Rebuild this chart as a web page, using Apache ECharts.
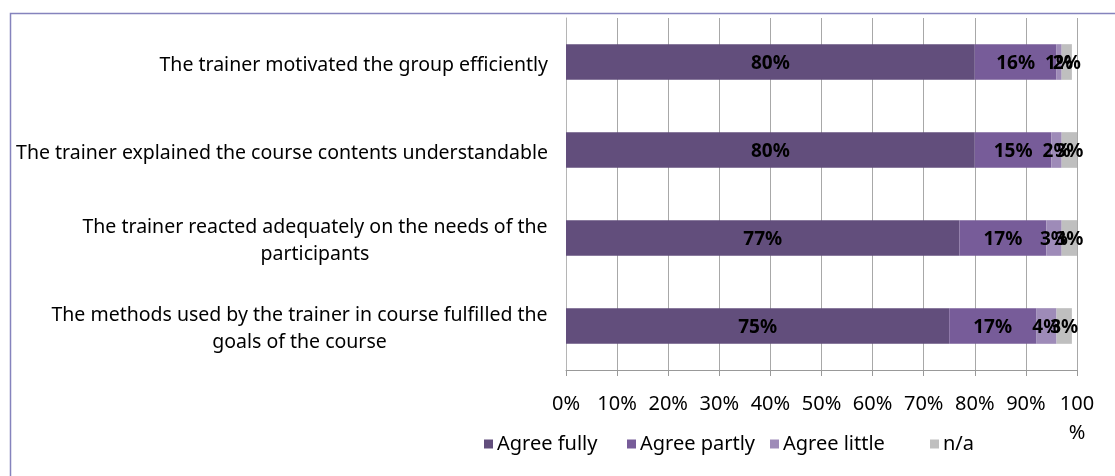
<!DOCTYPE html>
<html>
<head>
<meta charset="utf-8">
<style>
  html, body { margin: 0; padding: 0; background: #ffffff; }
  #chart { width: 1115px; height: 476px; }
</style>
<script src="https://cdn.jsdelivr.net/npm/echarts@6/dist/echarts.min.js"></script>
</head>
<body>
<div id="chart"></div>
<script>
// Statements rated by the participants (top to bottom)
const statements = [
  'The trainer motivated the group efficiently',
  'The trainer explained the course contents understandable',
  'The trainer reacted adequately on the needs of the\nparticipants',
  'The methods used by the trainer in course fulfilled the\ngoals of the course'
];

// Answer shares in percent, one value per statement
const agreeFully  = [80, 80, 77, 75];
const agreePartly = [16, 15, 17, 17];
const agreeLittle = [1, 2, 3, 4];
const notAnswered = [2, 3, 3, 3];

const seriesNames = ['Agree fully', 'Agree partly', 'Agree little', 'n/a'];
const seriesColors = ['#624e7c', '#775c99', '#9e8bb8', '#bfbfbf'];
const xTicks = [0, 10, 20, 30, 40, 50, 60, 70, 80, 90, 100];

const FONT = '"Noto Sans", "DejaVu Sans", sans-serif';
const FONT_SIZE = 20;
const CAT_FONT_SIZE = 19.5;

// Measure text so that wrapped labels can centre their lines
const measureCtx = document.createElement('canvas').getContext('2d');
measureCtx.font = CAT_FONT_SIZE + 'px ' + FONT;
const rich = {};
statements.forEach((s, i) => {
  const lines = s.split('\n');
  const w = Math.max(...lines.map(l => measureCtx.measureText(l).width));
  rich['c' + i] = {
    width: Math.ceil(w), align: 'center', fontSize: CAT_FONT_SIZE,
    fontFamily: FONT, color: '#000', lineHeight: 27
  };
});

const chart = echarts.init(document.getElementById('chart'), null, { renderer: 'canvas' });

const values = [agreeFully, agreePartly, agreeLittle, notAnswered];
const legendLeft = [479, 622, 765, 925];

const option = {
  animation: false,
  textStyle: { fontFamily: FONT },
  graphic: [{
    type: 'rect', left: 8, top: 11,
    shape: { width: 1200, height: 600 },
    style: { fill: 'none', stroke: '#8583bd', lineWidth: 1.5 },
    silent: true, z: -1
  }],
  legend: seriesNames.map((name, i) => ({
    data: [name],
    left: legendLeft[i], top: 429,
    icon: 'rect', itemWidth: 9, itemHeight: 9, itemGap: 0,
    textStyle: { fontSize: FONT_SIZE, color: '#000', fontFamily: FONT, padding: [0, 0, 0, -1] },
    selectedMode: false
  })),
  grid: { left: 566, right: 38, top: 18, bottom: 106, containLabel: false },
  xAxis: {
    type: 'value', min: 0, max: 100, interval: 10,
    axisLine: { show: true, lineStyle: { color: '#999999', width: 1 } },
    axisTick: { show: true, length: 6, lineStyle: { color: '#999999' } },
    splitLine: { show: true, lineStyle: { color: '#a8a8a8', width: 1 } },
    axisLabel: {
      margin: 20, fontSize: FONT_SIZE, color: '#000', fontFamily: FONT, lineHeight: 29,
      formatter: v => (xTicks.includes(v) ? (v === 100 ? '100\n%' : v + '%') : '')
    }
  },
  yAxis: {
    type: 'category', data: statements, inverse: true,
    axisLine: { show: true, lineStyle: { color: '#b5b5b5' } },
    axisTick: { show: false },
    axisLabel: {
      margin: 18, fontSize: CAT_FONT_SIZE, color: '#000', fontFamily: FONT, lineHeight: 27,
      padding: [6, 0, 0, 0],
      formatter: (v, idx) => {
        const lines = v.split('\n');
        if (lines.length === 1) return v;
        return lines.map(l => '{c' + idx + '|' + l + '}').join('\n');
      },
      rich: rich
    }
  },
  series: seriesNames.map((name, i) => ({
    name: name, type: 'bar', stack: 'total',
    barWidth: '40.5%',
    itemStyle: { color: seriesColors[i] },
    label: {
      show: true, position: 'inside', formatter: '{c}%', offset: [0, 2],
      color: '#000', fontWeight: 'bold', fontSize: 19, fontFamily: FONT
    },
    data: values[i]
  }))
};

chart.setOption(option);
</script>
</body>
</html>
